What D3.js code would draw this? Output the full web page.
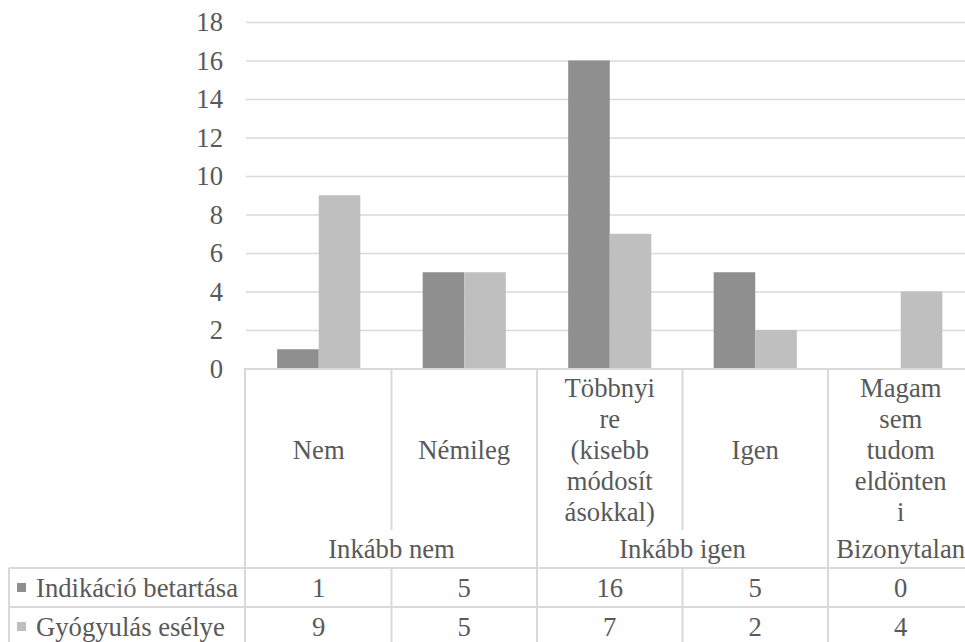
<!DOCTYPE html>
<html>
<head>
<meta charset="utf-8">
<script src="https://cdn.jsdelivr.net/npm/d3@7"></script>
</head>
<body style="margin:0;background:#fff">
<div id="wrapper"></div>
<script>
// data
const categories = ["Nem", "Némileg", "Többnyire (kisebb módosításokkal)", "Igen", "Magam sem tudom eldönteni"]
const groups = ["Inkább nem", "Inkább igen", "Bizonytalan"]
const groupSpans = [2, 2, 1]
const seriesNames = ["Indikáció betartása", "Gyógyulás esélye"]
const indikacio = [1, 5, 16, 5, 0]
const gyogyulas = [9, 5, 7, 2, 4]
const yTicks = [0, 2, 4, 6, 8, 10, 12, 14, 16, 18]
const seriesColors = ["#8f8f8f", "#bfbfbf"]

function drawChart() {
  const width = 965
  const height = 642
  const fontSize = "26.67px"
  const fontFamily = "Liberation Serif"
  const textColor = "#595959"
  const lineColor = "#d9d9d9"

  const plot = { left: 246, right: 973.5, top: 22, zero: 368.5 }
  const rows = { cat: [370, 530], grp: [530, 568], s1: [568, 607], s2: [607, 646] }
  const tableLeft = 9

  const svg = d3.select("#wrapper").append("svg")
    .attr("width", width)
    .attr("height", height)
    .style("display", "block")

  // every label gets the same look
  const addText = (parent) => parent.append("text")
    .style("font-family", fontFamily)
    .style("font-size", fontSize)
    .style("fill", textColor)

  // scales
  const xScale = d3.scaleBand()
    .domain(categories)
    .range([plot.left, plot.right])

  const xInner = d3.scaleBand()
    .domain(seriesNames)
    .range([0, xScale.bandwidth()])
    .paddingOuter(0.75)

  const yScale = d3.scaleLinear()
    .domain([0, 18])
    .range([plot.zero, plot.top])

  // gridlines + y labels
  const yAxis = svg.append("g")
    .attr("transform", `translate(${plot.left},0)`)
    .call(d3.axisLeft(yScale).tickValues(yTicks).tickSize(-(plot.right - plot.left)).tickPadding(23))
  yAxis.attr("font-family", null).attr("font-size", null)
  yAxis.select(".domain").remove()
  yAxis.selectAll(".tick line")
    .attr("stroke", lineColor)
    .attr("stroke-width", 1.5)
    .attr("display", d => d === 0 ? "none" : null)
  yAxis.selectAll(".tick text")
    .style("font-family", fontFamily)
    .style("font-size", fontSize)
    .style("fill", textColor)

  // bars
  const seriesData = [indikacio, gyogyulas]
  seriesNames.forEach((name, s) => {
    svg.append("g").selectAll("rect")
      .data(categories)
      .join("rect")
        .attr("x", d => xScale(d) + xInner(name))
        .attr("width", xInner.bandwidth())
        .attr("y", (d, i) => yScale(seriesData[s][i]))
        .attr("height", (d, i) => yScale(0) - yScale(seriesData[s][i]))
        .attr("fill", seriesColors[s])
  })

  // data table lines
  const lines = svg.append("g")
    .attr("stroke", lineColor)
    .attr("stroke-width", 2)

  const hLine = (y, x1, x2) => lines.append("line").attr("x1", x1).attr("x2", x2).attr("y1", y).attr("y2", y)
  const vLine = (x, y1, y2) => lines.append("line").attr("x1", x).attr("x2", x).attr("y1", y1).attr("y2", y2)

  hLine(plot.zero + 0.5, plot.left - 1, plot.right)
  hLine(rows.s1[0], tableLeft, plot.right)
  hLine(rows.s2[0], tableLeft, plot.right)
  hLine(rows.s2[1], tableLeft, plot.right)
  vLine(tableLeft, rows.s1[0], rows.s2[1])
  vLine(plot.left - 1, plot.zero - 0.5, rows.s2[1])

  // category boundaries: group edges run full height, inner edges skip the group row
  let idx = 0
  const groupStart = []
  groupSpans.forEach(n => { groupStart.push(idx); idx += n })
  categories.forEach((c, i) => {
    if (i === 0) return
    const x = xScale(c)
    if (groupStart.includes(i)) {
      vLine(x, rows.cat[0], rows.s2[1])
    } else {
      vLine(x, rows.cat[0], rows.cat[1])
      vLine(x, rows.s1[0], rows.s2[1])
    }
  })
  vLine(plot.right, rows.cat[0], rows.s2[1])

  // wrapped category labels (Excel breaks long words inside the cell)
  const maxW = 92
  const lineH = 31
  const measure = addText(svg)
  const textW = t => { measure.text(t); return measure.node().getComputedTextLength() }
  const wrap = label => {
    const out = []
    let cur = ""
    label.split(" ").forEach(word => {
      const tryLine = cur ? cur + " " + word : word
      if (textW(tryLine) <= maxW) { cur = tryLine; return }
      if (cur) out.push(cur)
      cur = ""
      for (const ch of word) {
        if (textW(cur + ch) <= maxW) cur += ch
        else { out.push(cur); cur = ch }
      }
    })
    if (cur) out.push(cur)
    return out
  }

  const catMid = (rows.cat[0] + rows.cat[1]) / 2
  categories.forEach(c => {
    const ls = wrap(c)
    const t = addText(svg).attr("text-anchor", "middle")
    ls.forEach((l, j) => {
      t.append("tspan")
        .attr("x", xScale(c) + xScale.bandwidth() / 2)
        .attr("y", catMid + (j - (ls.length - 1) / 2) * lineH)
        .attr("dy", "0.35em")
        .text(l)
    })
  })
  measure.remove()

  // group labels
  idx = 0
  groups.forEach((g, k) => {
    const x1 = xScale(categories[idx])
    const x2 = xScale(categories[idx + groupSpans[k] - 1]) + xScale.bandwidth()
    idx += groupSpans[k]
    addText(svg)
      .attr("x", (x1 + x2) / 2)
      .attr("y", (rows.grp[0] + rows.grp[1]) / 2)
      .attr("dy", "0.35em")
      .attr("text-anchor", "middle")
      .text(g)
  })

  // series rows with legend keys
  const seriesRows = [rows.s1, rows.s2]
  seriesNames.forEach((name, s) => {
    const mid = (seriesRows[s][0] + seriesRows[s][1]) / 2
    svg.append("rect")
      .attr("x", 17)
      .attr("y", mid - 4.5)
      .attr("width", 9)
      .attr("height", 9)
      .attr("fill", seriesColors[s])
    addText(svg)
      .attr("x", 36)
      .attr("y", mid)
      .attr("dy", "0.35em")
      .text(name)
    const g = svg.append("g")
    categories.forEach((c, i) => {
      addText(g)
        .attr("x", xScale(c) + xScale.bandwidth() / 2)
        .attr("y", mid)
        .attr("dy", "0.35em")
        .attr("text-anchor", "middle")
        .text(seriesData[s][i])
    })
  })
}
drawChart()
</script>
</body>
</html>
